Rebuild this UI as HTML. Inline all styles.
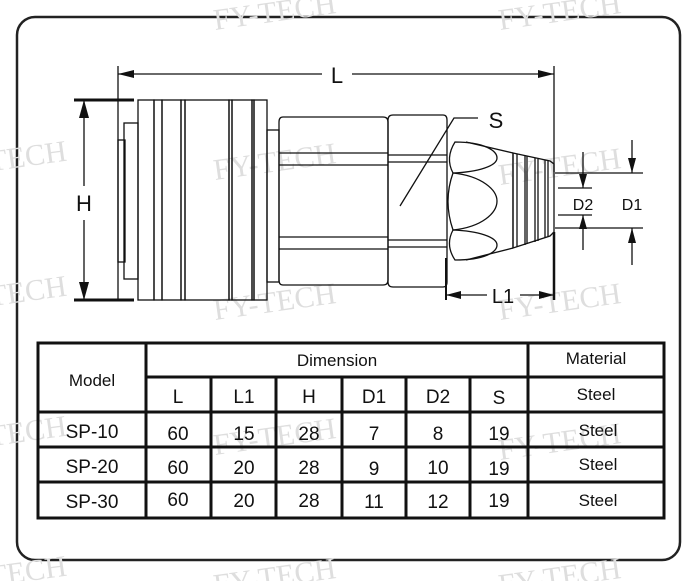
<!DOCTYPE html>
<html><head><meta charset="utf-8"><style>
html,body{margin:0;padding:0;background:#fff;}
svg{display:block;}
</style></head><body>
<svg width="700" height="581" viewBox="0 0 700 581" xmlns="http://www.w3.org/2000/svg" font-family="'Liberation Sans', sans-serif">
<rect x="0" y="0" width="700" height="581" fill="#fff"/>
<rect x="17" y="17" width="663" height="543" rx="18" fill="none" stroke="#222" stroke-width="2.5"/>

<g font-family="'Liberation Serif', serif" font-size="30" fill="#dedede">
<text x="215" y="30" transform="rotate(-8 215 30)">FY-TECH</text>
<text x="500" y="30" transform="rotate(-8 500 30)">FY-TECH</text>
<text x="-10" y="170" transform="rotate(-8 0 170)">TECH</text>
<text x="215" y="180" transform="rotate(-8 215 180)">FY-TECH</text>
<text x="500" y="185" transform="rotate(-8 500 185)">FY-TECH</text>
<text x="-10" y="305" transform="rotate(-8 0 305)">TECH</text>
<text x="215" y="320" transform="rotate(-8 215 320)">FY-TECH</text>
<text x="500" y="320" transform="rotate(-8 500 320)">FY-TECH</text>
<text x="-10" y="445" transform="rotate(-8 0 445)">TECH</text>
<text x="215" y="455" transform="rotate(-8 215 455)">FY-TECH</text>
<text x="500" y="460" transform="rotate(-8 500 460)">FY-TECH</text>
<text x="-10" y="585" transform="rotate(-8 0 585)">TECH</text>
<text x="215" y="595" transform="rotate(-8 215 595)">FY-TECH</text>
<text x="500" y="595" transform="rotate(-8 500 595)">FY-TECH</text>
</g>

<g stroke="#111" fill="none" stroke-width="1.3">
<line x1="118" y1="66" x2="118" y2="300"/>
<line x1="554" y1="66" x2="554" y2="172"/>
<line x1="554" y1="232" x2="554" y2="300" stroke-width="2.5"/>
<line x1="118" y1="74" x2="322" y2="74"/>
<line x1="352" y1="74" x2="554" y2="74"/>
<line x1="74" y1="100" x2="134" y2="100" stroke-width="3"/>
<line x1="74" y1="300" x2="134" y2="300" stroke-width="3"/>
<line x1="84" y1="100" x2="84" y2="186"/>
<line x1="84" y1="220" x2="84" y2="300"/>
<rect x="118" y="140" width="7" height="122"/>
<rect x="124" y="123" width="14" height="156"/>
<rect x="138" y="100" width="16" height="200"/>
<rect x="154" y="100" width="8" height="200"/>
<rect x="162" y="100" width="19" height="200"/>
<rect x="181" y="100" width="4" height="200"/>
<rect x="185" y="100" width="44" height="200"/>
<rect x="229" y="100" width="3" height="200"/>
<rect x="232" y="100" width="20" height="200"/>
<rect x="252" y="100" width="2" height="200"/>
<rect x="254" y="100" width="13" height="200"/>
<rect x="267" y="130" width="12" height="152"/>
<path d="M283 117 H383 Q388 117 388 122 V280 Q388 285 383 285 H283 Q279 285 279 280 V122 Q279 117 283 117 Z"/>
<line x1="279" y1="153" x2="388" y2="153"/>
<line x1="279" y1="165" x2="388" y2="165"/>
<line x1="279" y1="237" x2="388" y2="237"/>
<line x1="279" y1="249" x2="388" y2="249"/>
<path d="M393 115 H443 Q447 115 447 120 V282 Q447 287 443 287 H393 Q388 287 388 282 V120 Q388 115 393 115 Z"/>
<line x1="388" y1="155" x2="447" y2="155"/>
<line x1="388" y1="162" x2="447" y2="162"/>
<line x1="388" y1="240" x2="447" y2="240"/>
<line x1="388" y1="247" x2="447" y2="247"/>
<!-- nut cone -->
<path d="M513 153 L466 142 M513 248 L466 260 M513 153 V248"/>
<path d="M455 142 C485 142 497 151 497 158 C497 166 478 172 453 173 Q445 158 455 142 Z"/>
<path d="M453 173 C482 176 497 190 497 201 C497 213 482 227 453 230 Q443 201 453 173 Z"/>
<path d="M453 230 C478 231 497 237 497 245 C497 252 485 260 455 260 Q445 245 453 230 Z"/>
<path d="M513 153 L550 161 L554 164 V232 L550 236 L513 248 Z"/>
<line x1="517" y1="154" x2="517" y2="247"/>
<line x1="525" y1="156" x2="525" y2="245"/>
<line x1="527" y1="156" x2="527" y2="244"/>
<line x1="535" y1="158" x2="535" y2="242"/>
<line x1="538" y1="159" x2="538" y2="241"/>
<line x1="545" y1="160" x2="545" y2="238"/>
<line x1="548" y1="161" x2="548" y2="237"/>
<polyline points="400,206 454,118 478,118"/>
<line x1="555" y1="173" x2="643" y2="173"/>
<line x1="555" y1="228" x2="643" y2="228"/>
<line x1="558" y1="188" x2="592" y2="188"/>
<line x1="558" y1="215" x2="592" y2="215"/>
<line x1="583" y1="152" x2="583" y2="188"/>
<line x1="583" y1="215" x2="583" y2="250"/>
<line x1="632" y1="140" x2="632" y2="173"/>
<line x1="632" y1="228" x2="632" y2="265"/>
<line x1="446" y1="258" x2="446" y2="300" stroke-width="2"/>
<line x1="446" y1="295" x2="487" y2="295"/>
<line x1="520" y1="295" x2="554" y2="295"/>
</g>
<g fill="#111">
<polygon points="118,74 134,70 134,78"/>
<polygon points="554,74 538,70 538,78"/>
<polygon points="84,100 79,118 89,118"/>
<polygon points="84,300 79,282 89,282"/>
<polygon points="446,295 461,291 461,299"/>
<polygon points="554,295 539,291 539,299"/>
<polygon points="583,188 579,174 587,174"/>
<polygon points="583,215 579,229 587,229"/>
<polygon points="632,173 628,158 636,158"/>
<polygon points="632,228 628,243 636,243"/>
</g>
<g fill="#111" font-size="22">
<text x="337" y="83" text-anchor="middle">L</text>
<text x="84" y="211" text-anchor="middle">H</text>
<text x="496" y="128" text-anchor="middle">S</text>
<text x="503" y="303" text-anchor="middle" font-size="20">L1</text>
<text x="583" y="210" text-anchor="middle" font-size="16">D2</text>
<text x="632" y="210" text-anchor="middle" font-size="16">D1</text>
</g>

<g stroke="#111" fill="none" stroke-width="3">
<rect x="38" y="343" width="626" height="175"/>
<line x1="146" y1="343" x2="146" y2="518"/>
<line x1="528" y1="343" x2="528" y2="518"/>
<line x1="146" y1="377" x2="664" y2="377"/>
<line x1="38" y1="412" x2="664" y2="412"/>
<line x1="38" y1="447" x2="664" y2="447"/>
<line x1="38" y1="482" x2="664" y2="482"/>
<line x1="211" y1="377" x2="211" y2="518"/>
<line x1="276" y1="377" x2="276" y2="518"/>
<line x1="342" y1="377" x2="342" y2="518"/>
<line x1="406" y1="377" x2="406" y2="518"/>
<line x1="470" y1="377" x2="470" y2="518"/>
</g>
<g fill="#111" font-size="19" text-anchor="middle">
<text x="92" y="386" font-size="17">Model</text>
<text x="337" y="366" font-size="17">Dimension</text>
<text x="596" y="364" font-size="17">Material</text>
<text x="178" y="403">L</text><text x="244" y="403">L1</text><text x="309" y="403">H</text>
<text x="374" y="403">D1</text><text x="438" y="403">D2</text><text x="499" y="404">S</text>
<text x="596" y="400" font-size="17">Steel</text>
<text x="92" y="438">SP-10</text><text x="178" y="440">60</text><text x="244" y="440">15</text><text x="309" y="440">28</text><text x="374" y="440">7</text><text x="438" y="440">8</text><text x="499" y="440">19</text><text x="598" y="436" font-size="17">Steel</text>
<text x="92" y="473">SP-20</text><text x="178" y="474">60</text><text x="244" y="474">20</text><text x="309" y="474">28</text><text x="374" y="475">9</text><text x="438" y="474">10</text><text x="499" y="475">19</text><text x="598" y="470" font-size="17">Steel</text>
<text x="92" y="508">SP-30</text><text x="178" y="506">60</text><text x="244" y="507">20</text><text x="309" y="507">28</text><text x="374" y="508">11</text><text x="438" y="508">12</text><text x="499" y="507">19</text><text x="598" y="506" font-size="17">Steel</text>
</g>
</svg>
</body></html>
